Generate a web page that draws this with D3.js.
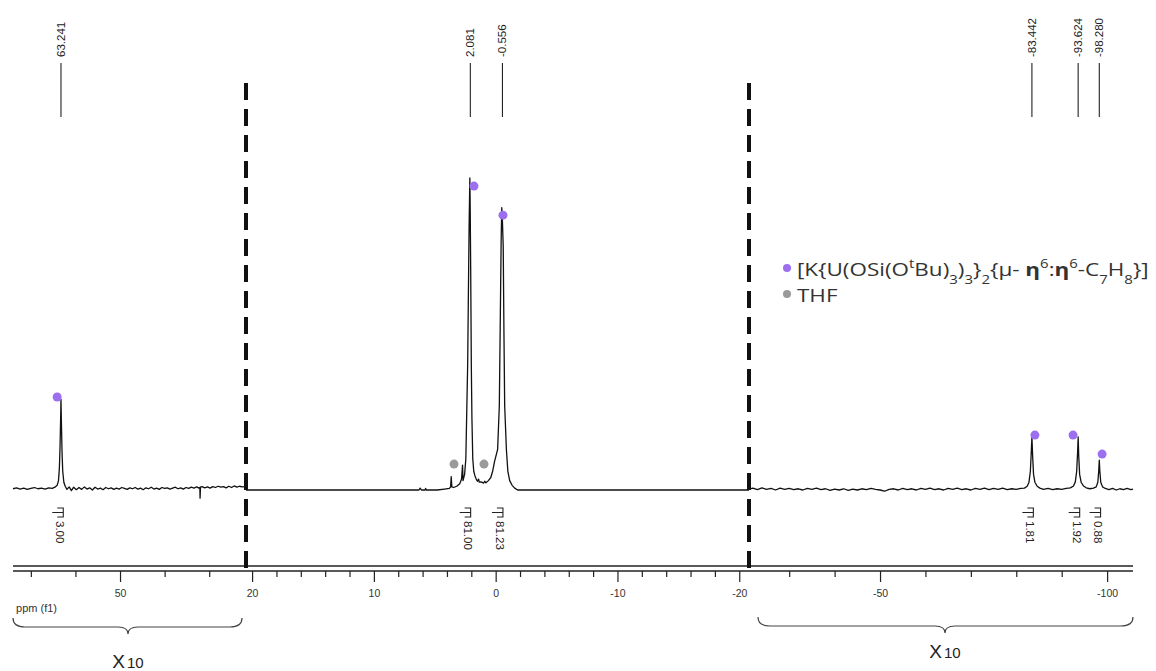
<!DOCTYPE html>
<html>
<head>
<meta charset="utf-8">
<script src="https://cdn.jsdelivr.net/npm/d3@7/dist/d3.min.js"></script>
<style>
  body { margin: 0; background: #fff; }
</style>
</head>
<body>
<div id="chart"></div>
<script>
// ---- data (ppm, relative intensity, tallest peak = 100) ----
// left piece, shown x10
const leftPpm = [74.0, 73.2, 72.4, 71.6, 70.8, 70.0, 69.2, 68.4, 67.6, 66.8, 66.0, 65.2, 64.6, 64.1, 63.8, 63.6, 63.45, 63.3, 63.241, 63.15, 63.0, 62.85, 62.6, 62.3, 61.9, 61.4, 60.9, 60.4, 59.8, 59.2, 58.6, 58.0, 57.4, 56.8, 56.2, 55.6, 55.0, 54.4, 53.8, 53.2, 52.6, 52.0, 51.4, 50.8, 50.2, 49.6, 49.0, 48.4, 47.8, 47.2, 46.6, 46.0, 45.4, 44.8, 44.2, 43.6, 43.0, 42.4, 41.8, 41.2, 40.6, 40.0, 39.4, 38.8, 38.2, 37.6, 37.0, 36.4, 35.8, 35.2, 34.6, 34.0, 33.4, 32.8, 32.3, 32.1, 32.05, 31.95, 31.6, 31.0, 30.4, 29.8, 29.2, 28.6, 28.0, 27.4, 26.8, 26.2, 25.6, 25.0, 24.4, 23.8, 23.2, 22.6, 22.0, 21.75];
const leftInt = [0.4, 0.7, 0.3, 0.6, 0.2, 0.5, 0.8, 0.4, 0.6, 0.3, 0.7, 0.5, 0.9, 1.5, 3, 7, 14, 24, 29, 22, 12, 6, 2.5, 1.2, 0.2, 1.0, -0.2, 0.9, 0.1, 0.8, 0.2, 1.0, 0.3, 0.7, 0, 0.9, 0.3, 0.6, 0.1, 0.8, 0.4, 0.7, 0.2, 0.6, 0.3, 0.8, 0.5, 0.2, 0.7, 0.4, 0.8, 0.3, 0.6, 0.1, 0.7, 0.4, 0.9, 0.3, 0.6, 0.2, 0.8, 0.5, 0.7, 0.3, 0.6, 0.9, 0.4, 0.7, 0.3, 0.8, 0.5, 0.9, 0.6, 1.0, 0.6, 0.8, -2.6, 0.9, 1.1, 0.7, 1.0, 0.6, 1.1, 0.8, 1.2, 0.9, 1.1, 0.7, 1.2, 0.8, 1.3, 0.9, 1.2, 1.0, 1.1, 1.1];

// middle piece
const midPpm = [20.5, 15, 10, 6.3, 6.2, 6.1, 5.8, 5.75, 5.7, 4.8, 4.2, 3.8, 3.7, 3.65, 3.6, 3.45, 3.2, 2.95, 2.8, 2.72, 2.68, 2.55, 2.45, 2.41, 2.3, 2.24, 2.18, 2.12, 2.09, 2.05, 2.0, 1.95, 1.88, 1.8, 1.7, 1.6, 1.5, 1.4, 1.35, 1.2, 1.0, 0.9, 0.8, 0.6, 0.4, 0.25, 0.1, -0.16, -0.3, -0.38, -0.45, -0.5, -0.556, -0.62, -0.68, -0.74, -0.88, -1.0, -1.15, -1.35, -1.56, -1.8, -5, -12, -20.8];
const midInt = [0, 0, 0, 0, 0.6, 0, 0, 0.5, 0, 0, 0.3, 0.5, 1, 4.3, 1, 0.8, 1.2, 2, 3.5, 8, 3, 5, 10, 18, 40, 63, 85, 100, 90, 70, 40, 23, 10, 6, 4.5, 3.5, 2.8, 3.5, 2.5, 2.6, 2.2, 2.8, 2.3, 3, 4, 6, 9, 13, 27, 55, 80, 90.5, 86, 78, 50, 27, 13, 6, 3, 1.5, 0.6, 0, 0, 0, 0];

// right piece, shown x10
const rightPpm = [-21.15, -22, -23, -24, -25, -26, -27, -28, -29, -30, -31, -32, -33, -34, -35, -36, -37, -38, -39, -40, -41, -42, -43, -44, -45, -46, -47, -48, -49, -50, -51, -52, -53, -54, -55, -56, -57, -58, -59, -60, -61, -62, -63, -64, -65, -66, -67, -68, -69, -70, -71, -72, -73, -74, -75, -76, -77, -78, -79, -80, -81, -81.8, -82.4, -82.8, -83.1, -83.3, -83.442, -83.6, -83.8, -84.1, -84.6, -85.2, -86, -87, -88, -89, -90, -91, -91.9, -92.6, -93.0, -93.3, -93.5, -93.624, -93.75, -93.95, -94.3, -94.8, -95.4, -96.2, -97.0, -97.6, -97.95, -98.15, -98.28, -98.4, -98.6, -99.0, -99.6, -100.4, -101.2, -102.0, -102.8, -103.6, -104.4, -105.2, -105.7];
const rightInt = [0.3, 0.6, 0.1, 0.7, 0.2, 0.5, 0.0, 0.6, 0.2, 0.5, 0.1, 0.4, 0.0, 0.5, 0.2, 0.6, 0.1, 0.4, -0.1, 0.3, 0.0, 0.4, -0.1, 0.3, 0.0, 0.4, 0.1, 0.5, 0.2, 0.0, -0.4, 0.2, 0.4, 0.0, 0.5, 0.1, 0.4, 0.0, 0.5, 0.2, 0.6, 0.1, 0.4, 0.0, 0.5, 0.2, 0.6, 0.1, 0.4, 0.0, 0.5, 0.2, 0.6, 0.1, 0.5, 0.2, 0.6, 0.1, 0.4, 0.2, 0.5, 0.6, 1.2, 2.5, 6, 12, 17, 11, 5, 2.5, 1.2, 0.6, 0.2, 0.5, 0.1, 0.4, 0.2, 0.5, 0.7, 1.3, 2.6, 6, 12, 17, 11, 5, 2.4, 1.3, 0.7, 0.4, 0.6, 1.0, 2.5, 6, 9.6, 6, 2.5, 1.0, 0.5, 0.1, 0.5, 0.0, 0.4, 0.1, 0.5, 0.1, 0.3];

// picked peaks (top labels)
const peakSeg = ["left", "mid", "mid", "right", "right", "right"];
const peakPpm = [63.241, 2.081, -0.556, -83.442, -93.624, -98.280];
const peakText = ["63.241", "2.081", "-0.556", "-83.442", "-93.624", "-98.280"];

// integrals (below baseline)
const integSeg = ["left", "mid", "mid", "right", "right", "right"];
const integPpm = [63.4, 2.3, -0.35, -83.1, -93.3, -97.9];
const integText = ["3.00", "81.00", "81.23", "1.81", "1.92", "0.88"];

// assignment dots
const dotSeg = ["left", "mid", "mid", "right", "right", "right", "mid", "mid"];
const dotPpm = [64.1, 1.78, -0.6, -84.1, -92.5, -98.9, 3.42, 0.96];
const dotInt = [29.8, 97.4, 88.1, 17.6, 17.6, 11.5, 8.3, 8.3];
const dotKind = ["U", "U", "U", "U", "U", "U", "THF", "THF"];

// axis ticks
const majorTicks = { left: [50], mid: [20, 10, 0, -10, -20], right: [-50, -100] };
const minorTicks = {
  left: [70, 60, 40, 30],
  mid: [18, 16, 14, 12, 8, 6, 4, 2, -2, -4, -6, -8, -12, -14, -16, -18],
  right: [-30, -40, -60, -70, -80, -90]
};

// ---- drawing ----
const width = 1156, height = 671;
const purple = "#9b6ff0", grey = "#9a9a9a";
const sans = "'Liberation Sans', Arial, sans-serif";

const svg = d3.select("#chart").append("svg")
  .attr("width", width).attr("height", height)
  .style("background", "#fff");

svg.append("clipPath").attr("id", "pageclip")
  .append("rect").attr("x", 12).attr("y", 0).attr("width", width).attr("height", height);

const root = svg.append("g").attr("clip-path", "url(#pageclip)")
  .style("font-family", sans);

// three pieces of the broken ppm axis
const xs = {
  left: d3.scaleLinear().domain([74.0, 21.75]).range([13, 246]),
  mid: d3.scaleLinear().domain([20.5, -20.8]).range([246, 749]),
  right: d3.scaleLinear().domain([-21.15, -105.7]).range([749, 1133])
};
const y = d3.scaleLinear().domain([0, 100]).range([490, 178]);

const traces = [
  ["left", leftPpm, leftInt],
  ["mid", midPpm, midInt],
  ["right", rightPpm, rightInt]
];

traces.forEach(([seg, ppm, val]) => {
  const line = d3.line()
    .x((d, i) => xs[seg](ppm[i]))
    .y((d, i) => y(val[i]));
  root.append("path")
    .datum(ppm)
    .attr("d", line)
    .attr("fill", "none")
    .attr("stroke", "#111")
    .attr("stroke-width", 1.3)
    .attr("stroke-linejoin", "round");
});

// axis: double line + ticks
const axisY = 571;
root.append("line").attr("x1", 13).attr("x2", 1133).attr("y1", 566).attr("y2", 566)
  .attr("stroke", "#222").attr("stroke-width", 1.3);

["left", "mid", "right"].forEach(seg => {
  const major = d3.axisBottom(xs[seg])
    .tickValues(majorTicks[seg])
    .tickSize(11)
    .tickPadding(8)
    .tickFormat(d => String(d));
  const minor = d3.axisBottom(xs[seg])
    .tickValues(minorTicks[seg])
    .tickSize(6)
    .tickFormat("");
  const gMin = root.append("g").attr("transform", `translate(0,${axisY})`).call(minor);
  const gMaj = root.append("g").attr("transform", `translate(0,${axisY})`).call(major);
  [gMin, gMaj].forEach(g => {
    g.select(".domain").remove();
    g.selectAll("line").attr("stroke", "#222").attr("stroke-width", 1.2);
  });
  gMaj.selectAll("text")
    .attr("fill", "#333")
    .style("font-size", "10.5px")
    .style("font-family", sans);
});
root.append("line").attr("x1", 13).attr("x2", 1133).attr("y1", axisY).attr("y2", axisY)
  .attr("stroke", "#222").attr("stroke-width", 1.3);

root.append("text").attr("x", 57).attr("y", 612)
  .attr("text-anchor", "end").attr("fill", "#333")
  .style("font-size", "11px").text("ppm (f1)");

// dashed breaks
[xs.left.range()[1], xs.mid.range()[1]].forEach(bx => {
  root.append("line")
    .attr("x1", bx).attr("x2", bx).attr("y1", 83).attr("y2", 575)
    .attr("stroke", "#111").attr("stroke-width", 4)
    .attr("stroke-dasharray", "17,9");
});

// peak labels
const peaks = root.append("g");
peakPpm.forEach((p, i) => {
  const px = xs[peakSeg[i]](p);
  peaks.append("line").attr("x1", px).attr("x2", px).attr("y1", 63).attr("y2", 117)
    .attr("stroke", "#222").attr("stroke-width", 1.1);
  peaks.append("text")
    .attr("transform", `translate(${px + 4},57) rotate(-90)`)
    .attr("fill", "#222").style("font-size", "11.5px")
    .text(peakText[i]);
});

// integrals
const integ = root.append("g");
integPpm.forEach((p, i) => {
  const cx = xs[integSeg[i]](p);
  integ.append("path")
    .attr("d", `M${cx - 3},508 L${cx + 3},508 L${cx + 3},517 L${cx - 3},517 M${cx - 8},512.5 L${cx + 3},512.5`)
    .attr("fill", "none").attr("stroke", "#222").attr("stroke-width", 1.1);
  integ.append("text")
    .attr("transform", `translate(${cx - 4},521) rotate(90)`)
    .attr("fill", "#222").style("font-size", "11.5px")
    .text(integText[i]);
});

// assignment dots
root.append("g").selectAll("circle")
  .data(dotPpm)
  .join("circle")
  .attr("cx", (d, i) => xs[dotSeg[i]](d))
  .attr("cy", (d, i) => y(dotInt[i]))
  .attr("r", 4.5)
  .attr("fill", (d, i) => dotKind[i] === "U" ? purple : grey);

// braces + x10 labels
function brace(x1, x2, xm, yTop) {
  const yb = yTop + 9, yp = yTop + 16;
  return `M${x1},${yTop} Q${x1},${yb} ${x1 + 12},${yb} L${xm - 10},${yb} Q${xm},${yb} ${xm},${yp}` +
    ` Q${xm},${yb} ${xm + 10},${yb} L${x2 - 12},${yb} Q${x2},${yb} ${x2},${yTop}`;
}
const braces = [[13, 242, 128, 618, 668], [758, 1133, 945, 617, 658]];
braces.forEach(([x1, x2, xm, yTop, tY]) => {
  root.append("path").attr("d", brace(x1, x2, xm, yTop))
    .attr("fill", "none").attr("stroke", "#444").attr("stroke-width", 1.2);
  const t = root.append("text").attr("x", xm).attr("y", tY)
    .attr("text-anchor", "middle").attr("fill", "#222");
  t.append("tspan").style("font-size", "19px").text("X");
  t.append("tspan").style("font-size", "15px").attr("dx", 2).text("10");
});

// legend
const legendFont = "'Open Sans', 'DejaVu Sans', sans-serif";
const legend = root.append("g");
legend.append("circle").attr("cx", 787).attr("cy", 268).attr("r", 4).attr("fill", purple);
legend.append("circle").attr("cx", 787).attr("cy", 294).attr("r", 4).attr("fill", grey);

const formula = [
  ["[K{U(OSi(O", 0], ["t", 1], ["Bu)", 0], ["3", -1], [")", 0], ["3", -1], ["}", 0], ["2", -1],
  ["{\u03bc- ", 0], ["\u03b7", 2], ["6", 1], [":", 0], ["\u03b7", 2], ["6", 1], ["-C", 0], ["7", -1],
  ["H", 0], ["8", -1], ["}]", 0]
];
const lt = legend.append("text").attr("x", 797).attr("y", 276)
  .attr("fill", "#333").style("font-size", "18px").style("font-family", legendFont);
formula.forEach(([s, k]) => {
  const ts = lt.append("tspan").text(s);
  if (k === 1) ts.attr("baseline-shift", "super").style("font-size", "12px");
  if (k === -1) ts.attr("baseline-shift", "sub").style("font-size", "12px");
  if (k === 2) ts.style("font-weight", "bold");
});
// the legend text in the source is drawn horizontally stretched
const wanted = 352;
const sx = wanted / lt.node().getComputedTextLength();
lt.attr("transform", `translate(797,0) scale(${sx},1) translate(-797,0)`);

legend.append("text").attr("x", 797).attr("y", 302)
  .attr("fill", "#333").style("font-size", "18px").style("font-family", legendFont)
  .attr("transform", `translate(797,0) scale(${sx},1) translate(-797,0)`)
  .text("THF");
</script>
</body>
</html>
